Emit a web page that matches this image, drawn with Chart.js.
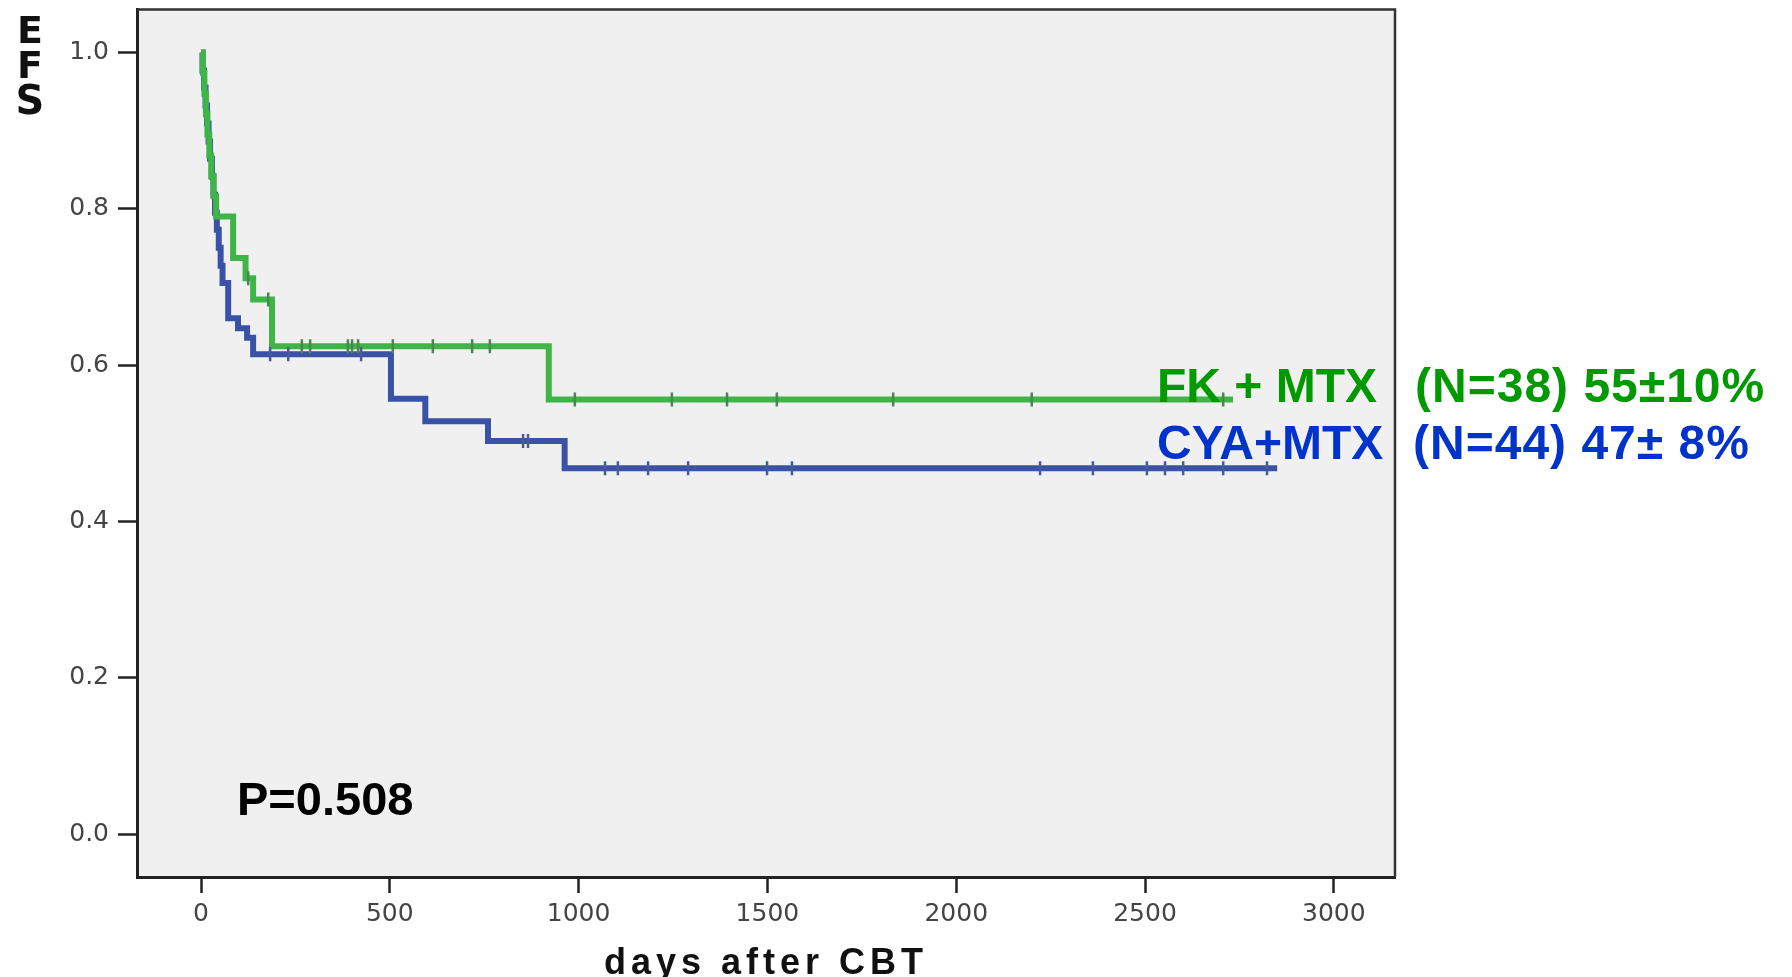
<!DOCTYPE html>
<html>
<head>
<meta charset="utf-8">
<script src="https://cdn.jsdelivr.net/npm/chart.js@4"></script>
<style>
  html, body { margin: 0; padding: 0; background: #fff; }
  #chart { display: block; }
</style>
</head>
<body>
<canvas id="chart" width="1792" height="977"></canvas>
<script>
// Kaplan-Meier steps: time (days) and survival after that time
const greenTimes = [0, 5, 9, 13, 17, 22, 27, 33, 40, 85, 118, 138, 188, 921, 2733];
const greenSurv = [1, 0.974, 0.947, 0.921, 0.895, 0.868, 0.842, 0.816, 0.79, 0.737, 0.711, 0.684, 0.624, 0.556, 0.556];
const greenCensorT = [125, 178, 267, 289, 389, 400, 416, 508, 614, 718, 765, 990, 1247, 1393, 1525, 1833, 2200, 2707];
const greenCensorS = [0.711, 0.684, 0.624, 0.624, 0.624, 0.624, 0.624, 0.624, 0.624, 0.624, 0.624, 0.556, 0.556, 0.556, 0.556, 0.556, 0.556, 0.556];

const blueTimes = [0, 4, 8, 12, 16, 20, 24, 29, 33, 37, 42, 47, 52, 57, 72, 98, 122, 138, 503, 594, 760, 963, 2850];
const blueSurv = [1, 0.977, 0.955, 0.932, 0.909, 0.886, 0.864, 0.841, 0.818, 0.795, 0.773, 0.75, 0.727, 0.705, 0.66, 0.647, 0.635, 0.614, 0.557, 0.528, 0.503, 0.468, 0.468];
const blueCensorT = [183, 231, 424, 853, 866, 1070, 1104, 1184, 1290, 1499, 1565, 2222, 2362, 2505, 2553, 2601, 2707, 2823];
const blueCensorS = [0.614, 0.614, 0.614, 0.503, 0.503, 0.468, 0.468, 0.468, 0.468, 0.468, 0.468, 0.468, 0.468, 0.468, 0.468, 0.468, 0.468, 0.468];

const xTicks = [0, 500, 1000, 1500, 2000, 2500, 3000];
const yTicks = [0, 0.2, 0.4, 0.6, 0.8, 1.0];

const greenLine = "#3fb548";
const blueLine = "#3a52a6";
const greenText = "#009900";
const blueText = "#0033cc";

const toPoints = (xs, ys) => xs.map((x, i) => ({ x: x, y: ys[i] }));

// grey plot box with frame
const plotBox = {
  id: "plotBox",
  beforeDraw(chart) {
    const { ctx, chartArea: a } = chart;
    ctx.save();
    ctx.fillStyle = "#f0f0f0";
    ctx.fillRect(a.left, a.top, a.right - a.left, a.bottom - a.top);
    ctx.restore();
  },
  afterDraw(chart) {
    const { ctx, chartArea: a } = chart;
    ctx.save();
    ctx.strokeStyle = "#333";
    ctx.lineWidth = 2.5;
    ctx.beginPath();
    ctx.moveTo(a.left, a.top);
    ctx.lineTo(a.right, a.top);
    ctx.lineTo(a.right, a.bottom);
    ctx.stroke();
    ctx.restore();
  }
};

// texts around the plot
const labels = {
  id: "labels",
  afterDraw(chart) {
    const ctx = chart.ctx;
    const sans = "'Liberation Sans', Arial, sans-serif";
    ctx.save();
    ctx.textBaseline = "alphabetic";

    ctx.fillStyle = "#111";
    ctx.textAlign = "center";
    ctx.font = "bold 38px 'DejaVu Sans'";
    ctx.fillText("E", 30, 43);
    ctx.fillText("F", 30, 78);
    ctx.font = "bold 40px 'DejaVu Sans'";
    ctx.fillText("S", 30, 114);

    ctx.textAlign = "left";
    ctx.fillStyle = "#000";
    ctx.font = "bold 47px " + sans;
    ctx.fillText("P=0.508", 237, 815);

    ctx.font = "bold 48px " + sans;
    ctx.fillStyle = greenText;
    ctx.fillText("FK + MTX", 1157, 402);
    ctx.letterSpacing = "1px";
    ctx.fillText("(N=38) 55\u00b110%", 1415, 402);
    ctx.letterSpacing = "0px";
    ctx.fillStyle = blueText;
    ctx.fillText("CYA+MTX", 1157, 459);
    ctx.letterSpacing = "1px";
    ctx.fillText("(N=44) 47\u00b1 8%", 1413, 459);

    ctx.textAlign = "center";
    ctx.fillStyle = "#111";
    ctx.font = "bold 36px " + sans;
    ctx.letterSpacing = "5px";
    ctx.fillText("days after CBT", 766, 974);
    ctx.restore();
  }
};

new Chart(document.getElementById("chart"), {
  type: "line",
  data: {
    datasets: [
      {
        label: "FK + MTX",
        data: toPoints(greenTimes, greenSurv),
        borderColor: greenLine,
        borderWidth: 6,
        stepped: "before",
        pointRadius: 0,
        fill: false
      },
      {
        label: "CYA+MTX",
        data: toPoints(blueTimes, blueSurv),
        borderColor: blueLine,
        borderWidth: 6,
        stepped: "before",
        pointRadius: 0,
        fill: false
      },
      {
        label: "FK censored",
        type: "scatter",
        data: toPoints(greenCensorT, greenCensorS),
        showLine: false,
        pointStyle: "line",
        rotation: 90,
        pointRadius: 7,
        borderWidth: 2.5,
        borderColor: "#4a8650",
        order: -1
      },
      {
        label: "CYA censored",
        type: "scatter",
        data: toPoints(blueCensorT, blueCensorS),
        showLine: false,
        pointStyle: "line",
        rotation: 90,
        pointRadius: 7,
        borderWidth: 2.5,
        borderColor: "#4a5a96",
        order: -1
      }
    ]
  },
  options: {
    responsive: false,
    animation: false,
    devicePixelRatio: 1,
    layout: { padding: { left: 0, top: 8, right: 397, bottom: 0 } },
    plugins: {
      legend: { display: false },
      tooltip: { enabled: false }
    },
    scales: {
      x: {
        type: "linear",
        min: -169.5,
        max: 3162,
        afterBuildTicks: (s) => { s.ticks = xTicks.map((v) => ({ value: v })); },
        afterFit: (s) => { s.height = 100; s.paddingLeft = 0; s.paddingRight = 0; },
        grid: { drawOnChartArea: false, drawTicks: true, tickLength: 16, tickWidth: 2.5, tickColor: "#222" },
        border: { display: true, color: "#222", width: 3 },
        ticks: {
          font: { family: "'DejaVu Sans'", size: 25 },
          color: "#444",
          padding: 6,
          maxRotation: 0,
          autoSkip: false,
          callback: (v) => String(v)
        }
      },
      y: {
        type: "linear",
        min: -0.0549,
        max: 1.0549,
        afterBuildTicks: (s) => { s.ticks = yTicks.map((v) => ({ value: v })); },
        afterFit: (s) => { s.width = 137; s.paddingTop = 0; s.paddingBottom = 0; },
        grid: { drawOnChartArea: false, drawTicks: true, tickLength: 19, tickWidth: 2.5, tickColor: "#222" },
        border: { display: true, color: "#222", width: 3 },
        ticks: {
          font: { family: "'DejaVu Sans'", size: 25 },
          color: "#444",
          padding: 9,
          callback: (v) => v.toFixed(1)
        }
      }
    }
  },
  plugins: [plotBox, labels]
});
</script>
</body>
</html>
